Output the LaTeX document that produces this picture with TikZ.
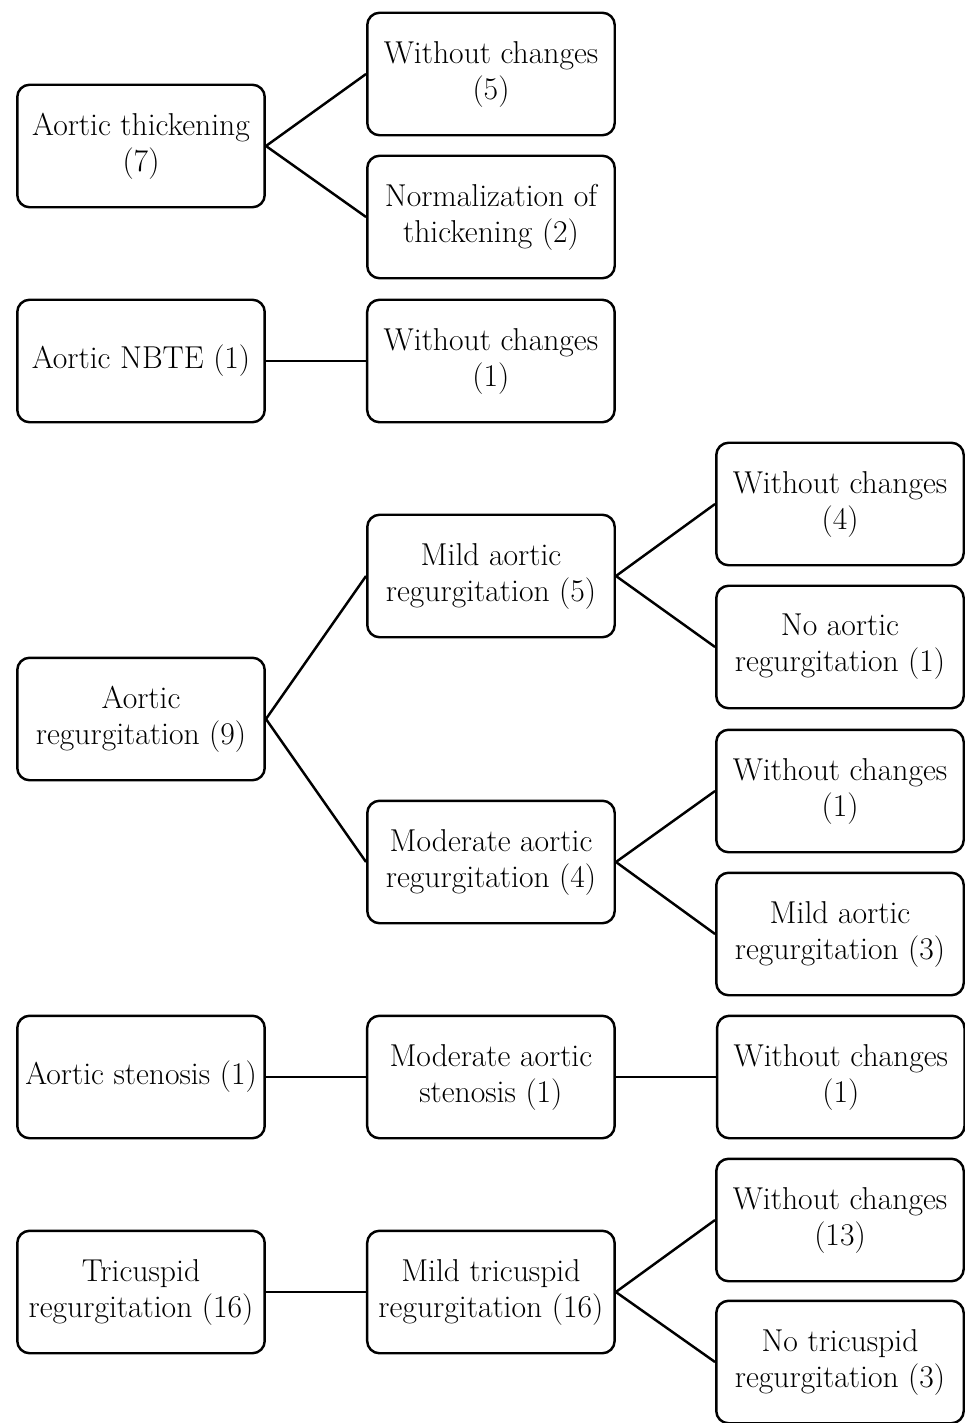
\documentclass[tikz,border=0pt]{standalone}
\usetikzlibrary{positioning}

\begin{document}
\begin{tikzpicture}[x=0.02cm, y=-0.02cm, line width=1.4pt,
    box/.style={draw, rounded corners=7pt, minimum width=4.95cm, minimum height=2.45cm,
                align=center, inner sep=1pt, font=\fontsize{18}{20.5}\selectfont}]
  \useasboundingbox (0,0) rectangle (964,1423);
  % aortic thickening
  \node[box] (th)  at (141,146) {Aortic thickening\\(7)};
  \node[box] (th1) at (491,74)  {Without changes\\(5)};
  \node[box] (th2) at (491,217) {Normalization of\\thickening (2)};
  % aortic NBTE
  \node[box] (nb)  at (141,361) {Aortic NBTE (1)};
  \node[box] (nb1) [right=2cm of nb] {Without changes\\(1)};
  % aortic regurgitation
  \node[box] (ar)   at (141,719) {Aortic\\regurgitation (9)};
  \node[box] (ar1)  at (491,576) {Mild aortic\\regurgitation (5)};
  \node[box] (ar2)  at (491,862) {Moderate aortic\\regurgitation (4)};
  \node[box] (ar11) at (840,504) {Without changes\\(4)};
  \node[box] (ar12) at (840,647) {No aortic\\regurgitation (1)};
  \node[box] (ar21) at (840,791) {Without changes\\(1)};
  \node[box] (ar22) at (840,934) {Mild aortic\\regurgitation (3)};
  % aortic stenosis
  \node[box] (as)  at (141,1077) {Aortic stenosis (1)};
  \node[box] (as1) [right=2cm of as]  {Moderate aortic\\stenosis (1)};
  \node[box] (as2) [right=2cm of as1] {Without changes\\(1)};
  % tricuspid regurgitation
  \node[box] (tr)   at (141,1292) {Tricuspid\\regurgitation (16)};
  \node[box] (tr1)  [right=2cm of tr] {Mild tricuspid\\regurgitation (16)};
  \node[box] (tr11) at (840,1220) {Without changes\\(13)};
  \node[box] (tr12) at (840,1362) {No tricuspid\\regurgitation (3)};

  \path[draw]
    (th.east) edge (th1.west)
              edge (th2.west)
    (nb) edge (nb1)
    (ar.east) edge (ar1.west)
              edge (ar2.west)
    (ar1.east) edge (ar11.west)
               edge (ar12.west)
    (ar2.east) edge (ar21.west)
               edge (ar22.west)
    (as) edge (as1)
    (as1) edge (as2)
    (tr) edge (tr1)
    (tr1.east) edge (tr11.west)
               edge (tr12.west);
\end{tikzpicture}
\end{document}
